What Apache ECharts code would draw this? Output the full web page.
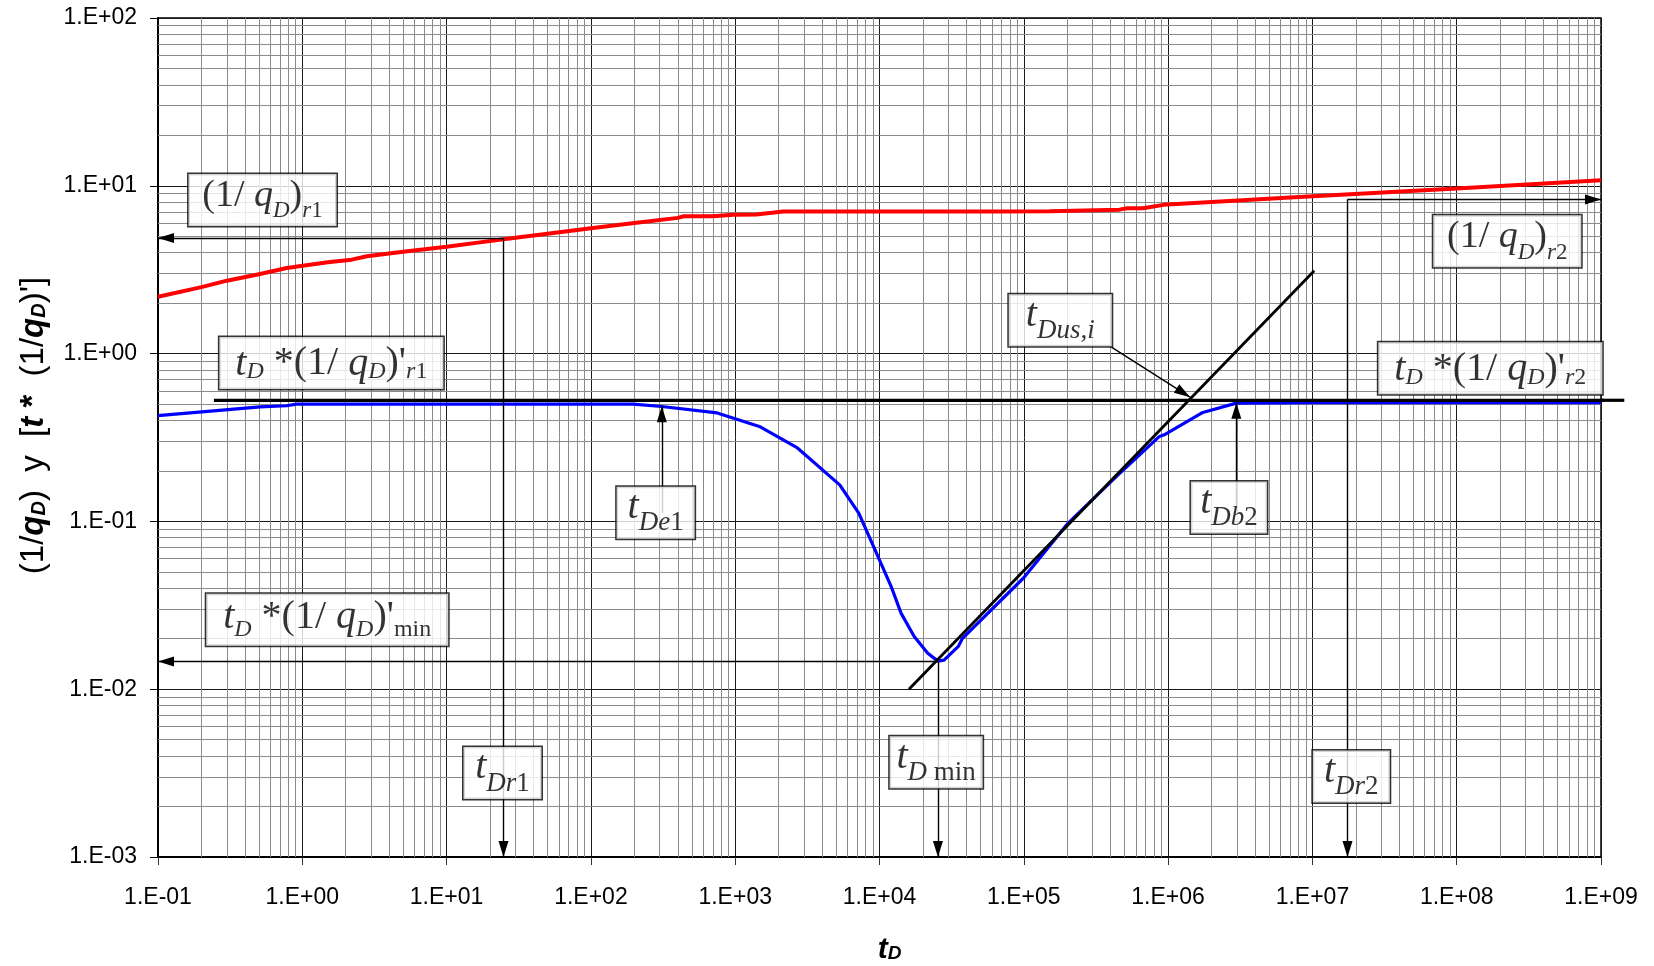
<!DOCTYPE html>
<html>
<head>
<meta charset="utf-8">
<script src="https://cdn.jsdelivr.net/npm/echarts@6/dist/echarts.min.js"></script>
<style>
  html, body { margin: 0; padding: 0; background: #fff; }
  #chart { width: 1654px; height: 966px; }
</style>
</head>
<body>
<div id="chart"></div>
<script>
// ---- Data -------------------------------------------------------------
// Dimensionless rate response (1/qD) versus tD
const rateT   = [0.1, 0.2, 0.3, 0.51, 0.78, 1.5, 2.2, 2.8, 5, 10, 17, 24, 50, 100, 200, 400, 440, 700, 970, 1400, 2150, 10000, 65000, 150000, 460000, 520000, 670000, 930000, 7000000, 100000000, 1000000000];
const rateInv = [2.18, 2.49, 2.72, 2.98, 3.24, 3.5, 3.63, 3.8, 4.05, 4.33, 4.6, 4.78, 5.18, 5.58, 6.01, 6.44, 6.58, 6.58, 6.73, 6.75, 7.02, 7.02, 7.02, 7.05, 7.21, 7.34, 7.34, 7.7, 8.53, 9.63, 10.8];

// Derivative tD*(1/qD)' versus tD
const derivT   = [0.1, 0.51, 0.78, 0.91, 196, 310, 750, 1470, 2700, 5300, 7180, 9750, 12050, 14100, 17400, 21600, 25400, 28000, 35200, 37600, 99500, 203000, 437000, 871000, 940000, 1740000, 2970000, 10000000, 1000000000];
const derivVal = [0.427, 0.481, 0.489, 0.5, 0.5, 0.484, 0.443, 0.368, 0.274, 0.165, 0.112, 0.0619, 0.0409, 0.0284, 0.0206, 0.0164, 0.0147, 0.0149, 0.018, 0.0201, 0.046, 0.0977, 0.185, 0.321, 0.328, 0.446, 0.507, 0.51, 0.51];

// Radial-flow stabilization level and the straight-line trend through the minimum
const stabT   = [0.244, 1450000000];
const stabVal = [0.527, 0.527];
const slopeT   = [16000, 10300000];
const slopeVal = [0.01, 3.12];

// Characteristic points
const tDr1 = 24.8,  invQr1 = 4.89;
const tDmin = 25400, derivMin = 0.0146;
const tDr2 = 17500000, invQr2 = 8.28;
const tDe1 = 310, tDb2 = 2970000, tDusi = 1420000;

// Axis tick labels
const xTickLabels = ['1.E-01', '1.E+00', '1.E+01', '1.E+02', '1.E+03', '1.E+04', '1.E+05', '1.E+06', '1.E+07', '1.E+08', '1.E+09'];
const yTickLabels = ['1.E-03', '1.E-02', '1.E-01', '1.E+00', '1.E+01', '1.E+02'];

const X_MIN = 0.1, X_MAX = 1e9, Y_MIN = 0.001, Y_MAX = 100;

// ---- Annotation boxes (anchored at box centre, in data units) ----------
const notes = [
  { t: 0.53,    v: 8.24,    w: 148, kind: 'A',  text: '{m|(1/}{mi| q}{s|D}{m|)}{s|r}{sn|1}' },
  { t: 2.24e8,  v: 4.67,    w: 148, kind: 'A',  text: '{m|(1/}{mi| q}{s|D}{m|)}{s|r}{sn|2}' },
  { t: 1.59,    v: 0.879,   w: 224, kind: 'B',  text: "{mi|t}{s|D}{m| *(1/}{mi| q}{s|D}{m|)'}{s|r}{sn|1}" },
  { t: 1.71e8,  v: 0.817,   w: 224, kind: 'B',  text: "{mi|t}{s|D}{m| *(1/}{mi| q}{s|D}{m|)'}{s|r}{sn|2}" },
  { t: 1.488,   v: 0.02594, w: 242, kind: 'B2', text: "{mi|t}{s|D}{m| *(1/}{mi| q}{s|D}{m|)'}{sn|min}" },
  { t: 281,     v: 0.1125,  w: 78,  kind: 'C',  text: '{mi|t}{s|De}{sn|1}' },
  { t: 24700,   v: 0.003673,w: 93,  kind: 'C',  text: '{mi|t}{s|D}{sn| min}' },
  { t: 24.4,    v: 0.00317, w: 78,  kind: 'C',  text: '{mi|t}{s|Dr}{sn|1}' },
  { t: 1.86e7,  v: 0.003013,w: 77,  kind: 'C',  text: '{mi|t}{s|Dr}{sn|2}' },
  { t: 2.64e6,  v: 0.1211,  w: 76,  kind: 'C',  text: '{mi|t}{s|Db}{sn|2}' },
  { t: 1.79e5,  v: 1.578,   w: 103, kind: 'C',  text: '{mi|t}{s|Dus,i}' }
];

// main size, subscript size, top pad of main text, subscript drop
const boxKinds = {
  A:  { M: 38, S: 23, pm: 2, drop: 10 },
  B:  { M: 40, S: 24, pm: 6, drop: 3 },
  B2: { M: 40, S: 24, pm: 3, drop: 7 },
  C:  { M: 40, S: 27, pm: 0, drop: 11 }
};

const SERIF = 'Liberation Serif, Times New Roman, serif';
const SANS = 'Liberation Sans, Arial, sans-serif';

function boxRich(k) {
  const ps = Math.round(k.pm + 0.8375 * (k.M - k.S) + k.drop);
  const main = { fontFamily: SERIF, fontSize: k.M, color: '#000', verticalAlign: 'top', padding: [k.pm, 0, 0, 0], lineHeight: 50 };
  const sub = { fontFamily: SERIF, fontSize: k.S, color: '#000', verticalAlign: 'top', padding: [ps, 0, 0, 0] };
  return {
    m: Object.assign({}, main),
    mi: Object.assign({}, main, { fontStyle: 'italic' }),
    s: Object.assign({}, sub, { fontStyle: 'italic' }),
    sn: Object.assign({}, sub)
  };
}

// Arrows: [from, to], arrow head at "to"
const arrows = [
  [[tDr1, invQr1], [tDr1, Y_MIN]],
  [[tDr1, invQr1], [X_MIN, invQr1]],
  [[tDmin, derivMin], [tDmin, Y_MIN]],
  [[tDmin, derivMin], [X_MIN, derivMin]],
  [[tDr2, invQr2], [tDr2, Y_MIN]],
  [[tDr2, invQr2], [X_MAX, invQr2]],
  [[tDe1, 0.1125], [tDe1, 0.486]],
  [[tDb2, 0.121], [tDb2, 0.51]],
  [[4.05e5, 1.094], [tDusi, 0.55]]
];

// Minor log grid values 2..9 within each decade
function minorValues(e0, e1) {
  const out = [];
  for (let e = e0; e < e1; e++) {
    for (let k = 2; k <= 9; k++) out.push(+(k * Math.pow(10, e)).toPrecision(6));
  }
  return out;
}
const xMinor = minorValues(-1, 9);
const yMinor = minorValues(-3, 2);

const zip = (a, b) => a.map((x, i) => [x, b[i]]);
const decade = v => Math.round(Math.log10(v));

const chart = echarts.init(document.getElementById('chart'));
chart.setOption({
  animation: false,
  backgroundColor: '#fff',
  grid: {
    left: 158, right: 53, top: 18, bottom: 109,
    outerBoundsMode: 'none', containLabel: false,
    show: true, borderColor: '#000', borderWidth: 1.5, backgroundColor: '#fff'
  },
  xAxis: {
    type: 'log', logBase: 10, min: X_MIN, max: X_MAX, splitNumber: 10,
    axisLine: { show: true, lineStyle: { color: '#000', width: 2 } },
    axisTick: { show: true, length: 8, lineStyle: { color: '#333', width: 1 } },
    axisLabel: {
      fontFamily: SANS, fontSize: 23, color: '#000', margin: 29,
      showMinLabel: true, showMaxLabel: true,
      formatter: v => xTickLabels[decade(v) + 1]
    },
    splitLine: { show: true, lineStyle: { color: '#1a1a1a', width: 1 } },
    name: '{b|t}{bs|D}',
    nameLocation: 'middle', nameGap: 78,
    nameTextStyle: {
      padding: [0, 0, 0, 20],
      rich: {
        b: { fontFamily: SANS, fontSize: 30, fontWeight: 'bold', fontStyle: 'italic', color: '#000' },
        bs: { fontFamily: SANS, fontSize: 19, fontWeight: 'bold', fontStyle: 'italic', color: '#000', padding: [8, 0, 0, 0] }
      }
    }
  },
  yAxis: {
    type: 'log', logBase: 10, min: Y_MIN, max: Y_MAX, splitNumber: 5,
    axisLine: { show: true, lineStyle: { color: '#000', width: 2 } },
    axisTick: { show: true, length: 8, lineStyle: { color: '#000', width: 1 } },
    axisLabel: {
      fontFamily: SANS, fontSize: 23, color: '#000', margin: 21,
      showMinLabel: true, showMaxLabel: true,
      formatter: v => yTickLabels[decade(v) + 3]
    },
    splitLine: { show: true, lineStyle: { color: '#1a1a1a', width: 1 } },
    name: "{n|(1/}{b|q}{bs|D}{n|)  y  [}{b|t}{bb| *}{n|  (1/}{b|q}{bs|D}{n|)']}",
    nameLocation: 'middle', nameGap: 108, nameRotate: 90,
    nameTextStyle: {
      padding: [0, 0, 0, 24],
      rich: {
        n: { fontFamily: SANS, fontSize: 33, color: '#000' },
        b: { fontFamily: SANS, fontSize: 33, fontWeight: 'bold', fontStyle: 'italic', color: '#000' },
        bb: { fontFamily: SANS, fontSize: 33, fontWeight: 'bold', color: '#000' },
        bs: { fontFamily: SANS, fontSize: 20, fontWeight: 'bold', fontStyle: 'italic', color: '#000', padding: [11, 0, 0, 0] }
      }
    }
  },
  series: [
    {
      // minor log grid, kept beneath the curves
      type: 'line', data: [], z: 1, silent: true,
      markLine: {
        z: 1, silent: true, precision: 10, symbol: ['none', 'none'],
        label: { show: false }, emphasis: { disabled: true },
        lineStyle: { color: '#8a8a8a', width: 1, type: 'solid' },
        data: xMinor.map(v => ({ xAxis: v })).concat(yMinor.map(v => ({ yAxis: v })))
      }
    },
    {
      name: '1/qD', type: 'line', z: 3, symbol: 'none', silent: true,
      data: zip(rateT, rateInv),
      lineStyle: { color: '#ff0000', width: 4 }
    },
    {
      name: "tD*(1/qD)'", type: 'line', z: 3, symbol: 'none', silent: true,
      data: zip(derivT, derivVal),
      lineStyle: { color: '#0000ff', width: 3.2 }
    },
    {
      type: 'line', z: 4, symbol: 'none', silent: true, clip: false,
      data: zip(stabT, stabVal),
      lineStyle: { color: '#000', width: 3.2 }
    },
    {
      type: 'line', z: 4, symbol: 'none', silent: true,
      data: zip(slopeT, slopeVal),
      lineStyle: { color: '#000', width: 2.8, type: 'solid' }
    },
    {
      // pointer arrows
      type: 'line', data: [], z: 5, silent: true,
      markLine: {
        z: 5, silent: true, precision: 10, symbol: ['none', 'triangle'],
        label: { show: false }, emphasis: { disabled: true },
        lineStyle: { color: '#000', width: 1.4, type: 'solid' },
        data: arrows.map(a => [
          { coord: a[0] },
          { coord: a[1], symbol: 'triangle', symbolSize: [10, 16], symbolOffset: [0, 8] }
        ])
      }
    },
    {
      // annotation boxes
      type: 'scatter', z: 8, silent: true, symbolSize: 0,
      itemStyle: { color: 'rgba(0,0,0,0)' },
      data: notes.map(n => ({
        value: [n.t, n.v],
        label: {
          show: true, position: 'inside', formatter: n.text,
          width: n.w - 8, overflow: 'none', align: 'center',
          padding: [1, 4, 1, 4],
          backgroundColor: '#fff', borderColor: '#000', borderWidth: 1.5,
          textBorderWidth: 0,
          rich: boxRich(boxKinds[n.kind])
        }
      }))
    }
  ]
});

// The stabilization line runs a little past the right border of the plot
const pEdge = chart.convertToPixel({ gridIndex: 0 }, [X_MAX, stabVal[1]]);
const pEnd = chart.convertToPixel({ gridIndex: 0 }, [stabT[1], stabVal[1]]);
chart.setOption({
  graphic: [{
    type: 'line', silent: true, z: 4,
    shape: { x1: pEdge[0], y1: pEdge[1], x2: pEnd[0], y2: pEnd[1] },
    style: { stroke: '#000', lineWidth: 3.2 }
  }]
});
</script>
</body>
</html>
